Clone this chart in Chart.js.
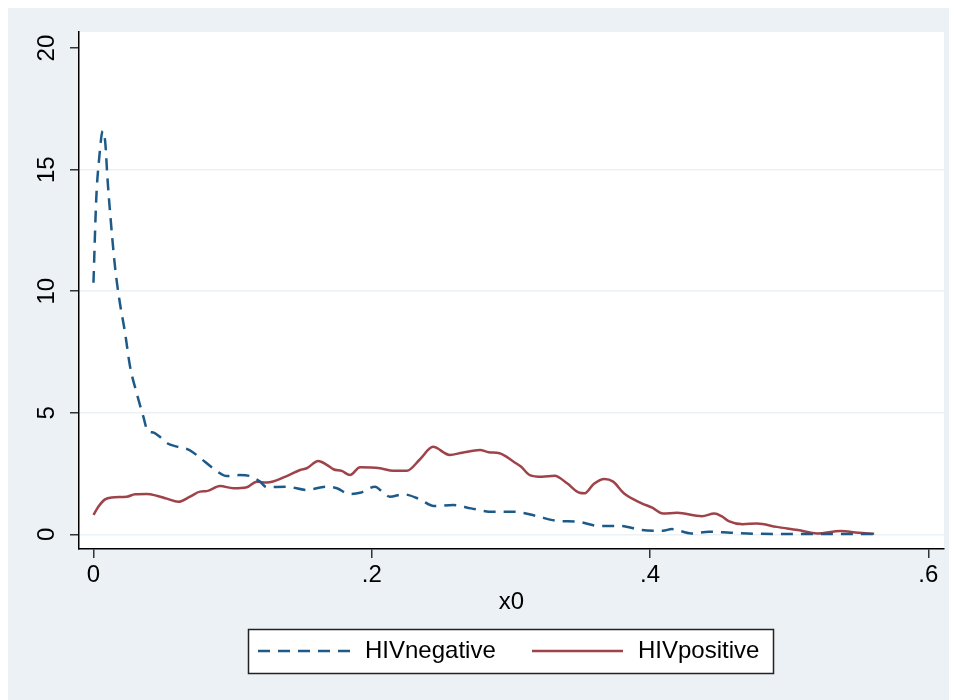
<!DOCTYPE html>
<html>
<head>
<meta charset="utf-8">
<script src="https://cdn.jsdelivr.net/npm/chart.js@4"></script>
<style>
  body { margin: 0; background: #fff; }
  #wrap { width: 957px; height: 700px; }
</style>
</head>
<body>
<div id="wrap"><canvas id="densityChart" width="957" height="700"></canvas></div>
<script>
// kernel density estimates, x0 on the horizontal axis
const negX = [0, 0.002, 0.004, 0.0067, 0.0085, 0.010, 0.012, 0.0155, 0.0186, 0.0227, 0.0263, 0.031, 0.0359, 0.039, 0.043, 0.047,
  0.053, 0.060, 0.069, 0.077, 0.086, 0.096, 0.105, 0.1125, 0.1197, 0.1245, 0.139, 0.153, 0.1677, 0.175, 0.184, 0.1916, 0.2024,
  0.2083, 0.213, 0.2227, 0.2347, 0.2446, 0.2587, 0.2714, 0.2867, 0.302, 0.3174, 0.3327, 0.348, 0.3633, 0.3786, 0.394, 0.4093,
  0.4157, 0.4297, 0.4424, 0.4578, 0.4756, 0.5012, 0.527, 0.561]
const negY = [10.35, 13.8, 15.4, 16.59, 16.1, 14.7, 13.2, 11.0, 9.66, 8.29, 6.9, 5.82, 4.83, 4.25, 4.19, 4.05,
  3.75, 3.61, 3.47, 3.13, 2.72, 2.40, 2.44, 2.40, 2.17, 1.94, 1.96, 1.83, 1.96, 1.9, 1.66, 1.71, 1.96,
  1.71, 1.55, 1.65, 1.44, 1.17, 1.21, 1.07, 0.93, 0.93, 0.77, 0.56, 0.52, 0.35, 0.35, 0.18, 0.15,
  0.22, 0.04, 0.11, 0.07, 0.03, 0.02, 0.02, 0.02]

const posX = [0, 0.0035, 0.0083, 0.0131, 0.0239, 0.0299, 0.0383, 0.0455, 0.0527, 0.061, 0.0694, 0.0766, 0.0814, 0.091, 0.1005,
  0.1102, 0.1173, 0.1245, 0.139, 0.1485, 0.1533, 0.1616, 0.1677, 0.1724, 0.1784, 0.1844, 0.1916, 0.206, 0.2155, 0.2252, 0.2347,
  0.2440, 0.256, 0.265, 0.2778, 0.2841, 0.2918, 0.302, 0.3072, 0.3136, 0.3225, 0.3314, 0.3404, 0.3493, 0.3531, 0.3595, 0.3672,
  0.3735, 0.3812, 0.394, 0.4016, 0.4093, 0.4195, 0.4373, 0.4463, 0.4514, 0.4565, 0.4667, 0.4769, 0.491, 0.5063, 0.5203, 0.5369,
  0.5497, 0.5611]
const posY = [0.80, 1.14, 1.44, 1.52, 1.55, 1.65, 1.66, 1.59, 1.47, 1.34, 1.55, 1.76, 1.78, 1.99, 1.9,
  1.94, 2.17, 2.13, 2.4, 2.65, 2.72, 3.02, 2.86, 2.68, 2.61, 2.44, 2.76, 2.72, 2.62, 2.62, 3.09,
  3.60, 3.27, 3.36, 3.47, 3.38, 3.34, 2.99, 2.79, 2.44, 2.37, 2.41, 2.10, 1.71, 1.69, 2.07, 2.28,
  2.17, 1.69, 1.28, 1.10, 0.86, 0.89, 0.75, 0.86, 0.75, 0.55, 0.42, 0.45, 0.31, 0.18, 0.04, 0.14,
  0.07, 0.03]

const seriesNames = ['HIVnegative', 'HIVpositive']
const xTickValues = [0, 0.2, 0.4, 0.6]
const xTickLabels = ['0', '.2', '.4', '.6']
const yTickValues = [0, 5, 10, 15, 20]

const FONT = "'Liberation Sans', Arial, Helvetica, sans-serif"
const BG = '#ebf1f4'

function toPoints(xs, ys) {
  return xs.map((x, i) => ({ x: x, y: ys[i] }))
}

// stata-like backgrounds: light outer region, white plot region
const backgrounds = {
  id: 'backgrounds',
  beforeDraw(chart) {
    const { ctx, chartArea: a } = chart
    ctx.save()
    ctx.fillStyle = '#fff'
    ctx.fillRect(0, 0, chart.width, chart.height)
    ctx.fillStyle = BG
    ctx.fillRect(8, 8, 941, 692)
    ctx.fillStyle = '#fff'
    ctx.fillRect(a.left, a.top, a.right - a.left, a.bottom - a.top)
    ctx.restore()
  }
}

// boxed legend below the axis title
const boxLegend = {
  id: 'boxLegend',
  afterDraw(chart) {
    const ctx = chart.ctx
    const sets = chart.data.datasets
    const items = [{ x0: 258, x1: 350, tx: 365 }, { x0: 532, x1: 623, tx: 638 }]
    const y = 651
    ctx.save()
    ctx.fillStyle = '#fff'
    ctx.fillRect(248.5, 629.5, 525, 44)
    ctx.strokeStyle = '#222'
    ctx.lineWidth = 1.5
    ctx.strokeRect(248.5, 629.5, 525, 44)
    items.forEach((it, i) => {
      const ds = sets[i]
      ctx.strokeStyle = ds.borderColor
      ctx.lineWidth = ds.borderWidth
      ctx.setLineDash(ds.borderDash || [])
      ctx.beginPath()
      ctx.moveTo(it.x0, y)
      ctx.lineTo(it.x1, y)
      ctx.stroke()
      ctx.setLineDash([])
      ctx.fillStyle = '#000'
      ctx.font = '24px ' + FONT
      ctx.textBaseline = 'middle'
      ctx.textAlign = 'left'
      ctx.fillText(ds.label, it.tx, y)
    })
    ctx.restore()
  }
}

const ctx = document.getElementById('densityChart')

new Chart(ctx, {
  type: 'line',
  data: {
    datasets: [{
      label: seriesNames[0],
      data: toPoints(negX, negY),
      borderColor: '#1e5a88',
      borderWidth: 2.5,
      borderDash: [12, 8],
      pointRadius: 0,
      cubicInterpolationMode: 'monotone',
      fill: false
    }, {
      label: seriesNames[1],
      data: toPoints(posX, posY),
      borderColor: '#9e4349',
      borderWidth: 2.5,
      pointRadius: 0,
      cubicInterpolationMode: 'monotone',
      fill: false
    }]
  },
  plugins: [backgrounds, boxLegend],
  options: {
    responsive: false,
    animation: false,
    layout: { padding: { top: 32, right: 13, left: 0, bottom: 0 } },
    plugins: {
      legend: { display: false },
      tooltip: { enabled: false }
    },
    scales: {
      x: {
        type: 'linear',
        min: -0.0104,
        max: 0.6113,
        afterBuildTicks: function (scale) {
          scale.ticks = xTickValues.map(v => ({ value: v }))
        },
        afterFit: function (scale) { scale.height = 151 },
        grid: { drawOnChartArea: false, tickLength: 9, tickColor: '#333', lineWidth: 1.5 },
        border: { display: true, color: '#000', width: 1.5 },
        ticks: {
          color: '#000',
          font: { family: FONT, size: 24 },
          padding: 3,
          maxRotation: 0,
          callback: function (v) {
            const i = xTickValues.indexOf(v)
            return i >= 0 ? xTickLabels[i] : ''
          }
        },
        title: {
          display: true,
          text: 'x0',
          color: '#000',
          font: { family: FONT, size: 24 },
          padding: { top: 0, bottom: 83 }
        }
      },
      y: {
        min: -0.6,
        max: 20.66,
        afterBuildTicks: function (scale) {
          scale.ticks = yTickValues.map(v => ({ value: v }))
        },
        afterFit: function (scale) { scale.width = 79 },
        grid: {
          color: c => (c.tick && c.tick.value === 20) ? 'rgba(0,0,0,0)' : BG,
          lineWidth: 1.5,
          tickLength: 9,
          tickColor: '#333'
        },
        border: { display: true, color: '#000', width: 1.5 },
        ticks: {
          color: '#000',
          font: { family: FONT, size: 24 },
          padding: 9,
          minRotation: 90,
          maxRotation: 90,
          crossAlign: 'center'
        }
      }
    }
  }
})
</script>
</body>
</html>
